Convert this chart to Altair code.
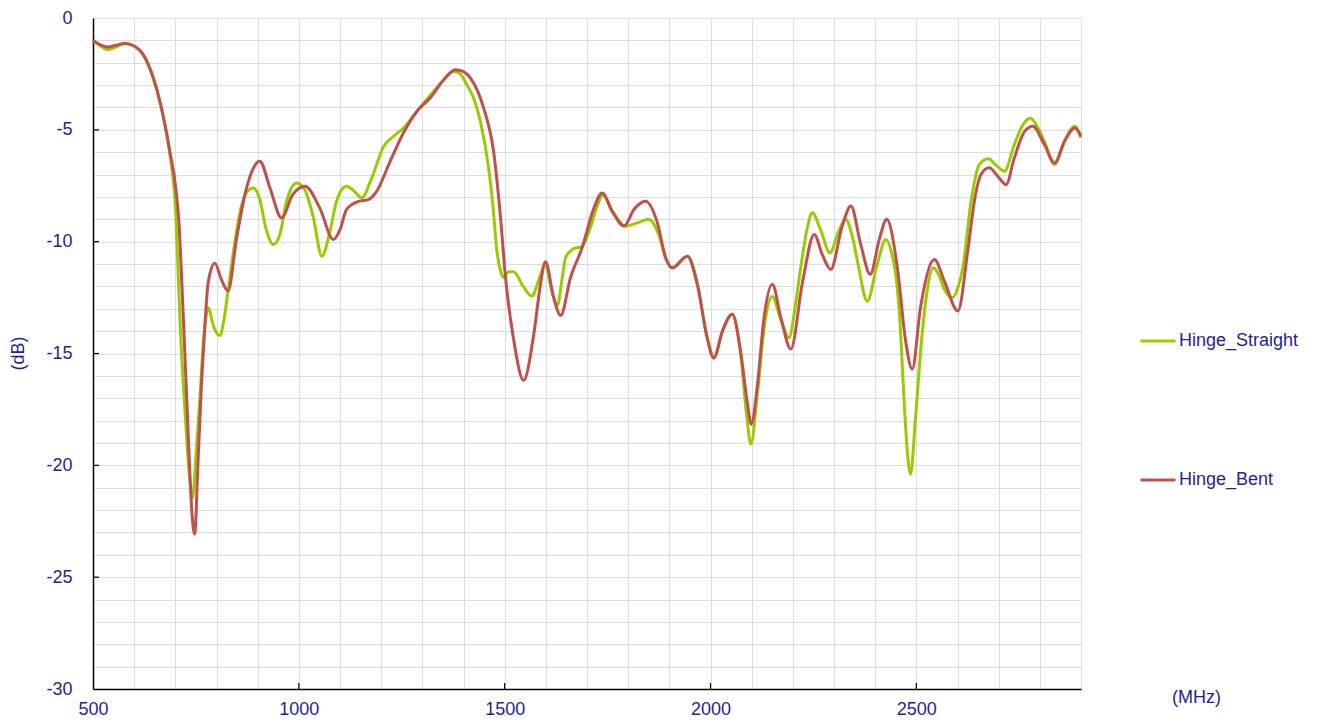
import altair as alt
import pandas as pd

# ---- data ----
straight_mhz = [500, 518, 536, 555, 577, 600, 621, 646, 666, 686, 701, 706, 712, 720, 729, 736, 742,
                750, 760, 768, 774, 780, 793, 808, 818, 828, 840, 849, 862, 875, 889, 905, 920, 938, 954,
                970, 982, 995, 1015, 1035, 1056, 1075, 1090, 1100, 1116, 1135, 1153, 1177, 1206, 1230,
                1254, 1287, 1327, 1352, 1376, 1392, 1408, 1425, 1441, 1461, 1471, 1481, 1490, 1497, 1510,
                1522, 1545, 1566, 1585, 1599, 1612, 1628, 1640, 1648, 1664, 1688, 1708, 1725, 1739, 1761,
                1793, 1822, 1850, 1874, 1891, 1907, 1944, 1968, 1992, 2008, 2029, 2053, 2073, 2088, 2098,
                2114, 2130, 2150, 2171, 2191, 2205, 2219, 2235, 2247, 2268, 2290, 2310, 2328, 2345, 2357,
                2381, 2405, 2426, 2440, 2450, 2460, 2466, 2478, 2486, 2498, 2514, 2528, 2541, 2555, 2568,
                2588, 2602, 2613, 2633, 2653, 2675, 2695, 2714, 2738, 2758, 2777, 2795, 2811, 2836, 2860,
                2885, 2900]
straight_db = [-1.0, -1.25, -1.42, -1.3, -1.14, -1.25, -1.64, -2.65, -4.0, -6.0, -8.7, -11.0, -13.8, -16.6,
               -19.2, -20.8, -21.45, -19.6, -16.9, -14.5, -13.4, -12.96, -13.8, -14.2, -13.5,
               -12.2, -10.6, -9.5, -8.3, -7.75, -7.6, -8.1, -9.4, -10.13, -9.68, -8.2, -7.6, -7.38, -7.7,
               -8.9, -10.65, -9.6, -8.3, -7.8, -7.52, -7.75, -8.04, -7.15, -5.74, -5.29, -4.92, -4.17,
               -3.28, -2.76, -2.39, -2.5, -2.98, -3.6, -4.62, -6.7, -8.3, -10.4, -11.3, -11.6, -11.35,
               -11.35, -12.0, -12.43, -11.6, -11.0, -12.0, -12.85, -11.6, -10.72, -10.35, -10.2, -9.38,
               -8.4, -7.9, -8.6, -9.3, -9.16, -9.0, -9.68, -10.72, -11.17, -10.65, -11.9, -14.3, -15.2,
               -14.0, -13.25, -15.0, -17.8, -19.05, -16.8, -13.9, -12.45, -13.5, -14.29, -13.0, -11.17,
               -9.4, -8.71, -9.5, -10.5, -9.6, -9.0, -9.8, -10.87, -12.66, -11.0, -9.9, -10.5, -11.46,
               -13.5, -15.6, -19.35, -20.4, -17.87, -14.14, -12.0, -11.17, -11.5, -12.13, -12.5, -12.0,
               -11.17, -8.19, -6.55, -6.29, -6.6, -6.85, -5.66, -4.8, -4.47, -4.9, -5.51, -6.55, -5.5,
               -4.84, -5.35]

bent_mhz = [500, 518, 536, 555, 577, 600, 621, 646, 666, 686, 701, 709, 715, 722, 731, 741, 747, 755, 764,
            772, 780, 796, 812, 828, 849, 873, 890, 905, 930, 958, 985, 1015, 1051, 1084, 1100, 1116, 1145,
            1169, 1189, 1222, 1254, 1287, 1319, 1352, 1380, 1400, 1417, 1449, 1473, 1490, 1502, 1522,
            1546, 1571, 1587, 1599, 1619, 1636, 1660, 1688, 1717, 1737, 1761, 1790, 1814, 1842, 1871,
            1891, 1907, 1944, 1968, 1992, 2008, 2029, 2053, 2073, 2090, 2099, 2114, 2130, 2150, 2171,
            2195, 2224, 2252, 2272, 2292, 2320, 2341, 2365, 2388, 2410, 2428, 2454, 2474, 2490, 2510,
            2544, 2568, 2601, 2625, 2641, 2657, 2677, 2698, 2718, 2738, 2763, 2783, 2811, 2836, 2860,
            2885, 2900]
bent_db = [-1.0, -1.2, -1.3, -1.22, -1.14, -1.25, -1.6, -2.65, -4.0, -5.9, -7.6, -9.2, -11.5, -14.5,
           -18.5, -22.3, -23.07, -19.9, -16.2, -13.7, -11.8, -10.97, -11.7, -12.2, -9.83, -7.6, -6.7, -6.4,
           -7.6, -8.94, -7.9, -7.52, -8.5, -9.9, -9.46, -8.56, -8.2, -8.12, -7.75, -6.4, -5.14, -4.17,
           -3.58, -2.76, -2.31, -2.4, -2.69, -4.03, -5.96, -8.94, -11.6, -14.4, -16.2, -14.1, -11.9,
           -10.9, -12.5, -13.3, -11.6, -10.28, -8.49, -7.82, -8.64, -9.3, -8.56, -8.19, -9.16, -10.72,
           -11.17, -10.65, -11.9, -14.3, -15.2, -14.0, -13.25, -14.9, -17.27, -18.16, -16.4, -13.4, -11.9,
           -13.4, -14.8, -11.76, -9.68, -10.6, -11.24, -9.3, -8.41, -10.13, -11.46, -9.9, -9.0, -11.17,
           -14.44, -15.7, -12.96, -10.8, -11.76, -13.1, -10.4, -8.19, -7.0, -6.7, -7.08, -7.45, -6.26,
           -5.07, -4.84, -5.66, -6.48, -5.51, -4.92, -5.29]

series_names = ["Hinge_Straight", "Hinge_Bent"]
series_colors = ["#99cc00", "#c0504d"]
x_tick_values = [1000, 1500, 2000, 2500]
y_tick_values = [-5, -10, -15, -20, -25]

NAVY = "#1f1f99"
FONT = "Liberation Sans"

df = pd.concat([
    pd.DataFrame({"MHz": straight_mhz, "dB": straight_db, "series": series_names[0]}),
    pd.DataFrame({"MHz": bent_mhz, "dB": bent_db, "series": series_names[1]}),
], ignore_index=True)

xscale = alt.Scale(domain=[500, 2900], nice=False, zero=False)
yscale = alt.Scale(domain=[-30, 0], nice=False, zero=False)

x_axis = alt.Axis(
    values=list(range(500, 2901, 100)),
    labelExpr="datum.value % 500 === 0 && datum.value < 2900 ? '' + datum.value : ''",
    grid=True, ticks=False, tickSize=0,
    labelFont=FONT, labelFontSize=18, labelColor=NAVY, labelPadding=11,
    labelFlush=False, labelOverlap=False,
    title="(MHz)", titleFont=FONT, titleFontSize=18, titleFontWeight="normal", titleColor=NAVY,
    titleX=1103, titleY=8, titleAlign="center", titleBaseline="middle",
    domainColor="#000000", domainWidth=1.5,
)
y_axis = alt.Axis(
    values=list(range(-30, 1, 1)),
    labelExpr="datum.value % 5 === 0 ? '' + datum.value : ''",
    grid=True, ticks=False, tickSize=0,
    labelFont=FONT, labelFontSize=18, labelColor=NAVY, labelPadding=21,
    labelFlush=False, labelOverlap=False,
    title="(dB)", titleFont=FONT, titleFontSize=18, titleFontWeight="normal", titleColor=NAVY,
    titleX=-75, titleY=335, titleAngle=270, titleAlign="center", titleBaseline="middle",
    domainColor="#000000", domainWidth=1.5,
)

lines = alt.Chart(df).mark_line(strokeWidth=3, interpolate="monotone").encode(
    x=alt.X("MHz:Q", scale=xscale, axis=x_axis),
    y=alt.Y("dB:Q", scale=yscale, axis=y_axis),
    color=alt.Color(
        "series:N",
        scale=alt.Scale(domain=series_names, range=series_colors),
        legend=alt.Legend(
            orient="none", legendX=1046, legendY=304, title=None,
            symbolType="stroke", symbolSize=1225, symbolStrokeWidth=3,
            labelFont=FONT, labelFontSize=18, labelColor=NAVY, labelOffset=2,
            rowPadding=111, padding=0,
        ),
    ),
    detail="series:N",
)

xt = alt.Chart(pd.DataFrame({"MHz": x_tick_values})).mark_rule(color="#000000", strokeWidth=1.2).encode(
    x=alt.X("MHz:Q", scale=xscale, axis=x_axis),
    y=alt.value(671), y2=alt.value(665),
)
yt = alt.Chart(pd.DataFrame({"dB": y_tick_values})).mark_rule(color="#000000", strokeWidth=1.2).encode(
    y=alt.Y("dB:Q", scale=yscale, axis=y_axis),
    x=alt.value(0), x2=alt.value(6),
)

chart = alt.layer(lines, xt, yt).properties(
    width=988, height=671,
    padding={"left": 85, "top": 10, "right": 220, "bottom": 28},
    autosize=alt.AutoSizeParams(type="none"),
).configure_view(
    stroke="#9a9a9a", strokeWidth=1.5,
).configure_axis(
    gridColor="#c4c4c4", gridWidth=1.8,
).configure(background="#ffffff")

chart.save("out.html", embed_options={"renderer": "svg", "actions": False})
